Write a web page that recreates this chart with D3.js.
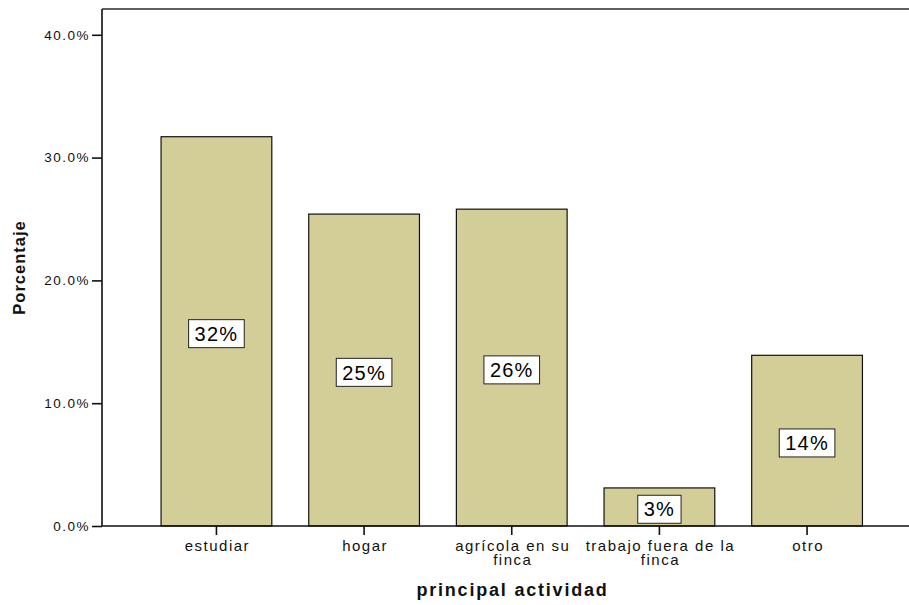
<!DOCTYPE html>
<html>
<head>
<meta charset="utf-8">
<script src="https://cdn.jsdelivr.net/npm/d3@7/dist/d3.min.js"></script>
<style>
  html, body { margin: 0; padding: 0; background: #fff; }
  svg { display: block; font-family: "Liberation Sans", Arial, sans-serif; }
</style>
</head>
<body>
<script>
// Distribución por principal actividad (porcentaje)
const categories = ["estudiar", "hogar", "agrícola en su finca", "trabajo fuera de la finca", "otro"];
const categoryLines = [["estudiar"], ["hogar"], ["agrícola en su", "finca"], ["trabajo fuera de la", "finca"], ["otro"]];
const percentages = [31.7, 25.4, 25.8, 3.1, 13.9];
const yTicks = [0, 10, 20, 30, 40];
const yTitle = "Porcentaje";
const xTitle = "principal actividad";

const W = 909, H = 605;
const plotLeft = 102, plotTop = 9, plotBottom = 526;

const svg = d3.select("body").append("svg")
  .attr("width", W).attr("height", H);

const x = d3.scaleBand()
  .domain(categories)
  .range([plotLeft, 921.5])
  .paddingInner(0.25)
  .paddingOuter(0.4);

const y = d3.scaleLinear()
  .domain([0, 42.1])
  .range([plotBottom, plotTop]);

// frame top line
svg.append("line")
  .attr("x1", plotLeft).attr("x2", W)
  .attr("y1", plotTop).attr("y2", plotTop)
  .attr("stroke", "#2a2a2a").attr("stroke-width", 1.6);

// bars
svg.append("g").selectAll("rect")
  .data(percentages)
  .join("rect")
  .attr("x", (d, i) => x(categories[i]))
  .attr("y", d => y(d))
  .attr("width", x.bandwidth())
  .attr("height", d => plotBottom - y(d))
  .attr("fill", "#d3ce98")
  .attr("stroke", "#111")
  .attr("stroke-width", 1.2);

// y axis
const yAxis = svg.append("g")
  .attr("transform", `translate(${plotLeft},0)`)
  .call(d3.axisLeft(y).tickValues(yTicks).tickSize(10).tickPadding(2)
    .tickFormat(d => d.toFixed(1) + "%"));
yAxis.select(".domain").attr("d", `M0,${plotTop}V${plotBottom}`).attr("stroke", "#111").attr("stroke-width", 1.6);
yAxis.selectAll(".tick line").attr("stroke", "#111").attr("stroke-width", 1.6);
yAxis.selectAll(".tick text")
  .attr("font-family", "'Liberation Sans', Arial, sans-serif")
  .attr("font-size", 13.5)
  .attr("letter-spacing", "1.5px")
  .attr("fill", "#111");

// x axis
const xAxis = svg.append("g")
  .attr("transform", `translate(0,${plotBottom})`)
  .call(d3.axisBottom(x).tickSize(9).tickFormat(""));
xAxis.select(".domain").attr("d", `M${plotLeft},0H${W}`).attr("stroke", "#111").attr("stroke-width", 1.6);
xAxis.selectAll(".tick line").attr("stroke", "#111").attr("stroke-width", 1.6);
xAxis.selectAll(".tick").each(function(d, i) {
  const t = d3.select(this).append("text")
    .attr("fill", "#111")
    .attr("font-family", "'Liberation Sans', Arial, sans-serif")
    .attr("font-size", 15)
    .attr("letter-spacing", "1.5px")
    .attr("text-anchor", "middle");
  categoryLines[i].forEach((line, k) => {
    t.append("tspan").attr("x", 1).attr("y", 25 + k * 13.5).text(line);
  });
});

// value labels
const lbl = svg.append("g").selectAll("g")
  .data(percentages)
  .join("g")
  .attr("transform", (d, i) => `translate(${x(categories[i]) + x.bandwidth() / 2},${y(d / 2) + 2.3})`);
lbl.append("text")
  .attr("text-anchor", "middle")
  .attr("dy", "0.36em")
  .attr("font-size", 20)
  .attr("letter-spacing", "1.2px")
  .attr("fill", "#000")
  .text(d => Math.round(d) + "%");
lbl.each(function() {
  const g = d3.select(this);
  const bb = g.select("text").node().getBBox();
  g.insert("rect", "text")
    .attr("x", -bb.width / 2 - 6)
    .attr("y", -14)
    .attr("width", bb.width + 12)
    .attr("height", 28)
    .attr("fill", "#fff")
    .attr("stroke", "#222")
    .attr("stroke-width", 1);
});

// axis titles
svg.append("text")
  .attr("transform", `translate(25,${(plotTop + plotBottom) / 2}) rotate(-90)`)
  .attr("text-anchor", "middle")
  .attr("font-weight", "bold")
  .attr("font-size", 16.5)
  .attr("letter-spacing", "1px")
  .attr("fill", "#111")
  .text(yTitle);

svg.append("text")
  .attr("x", 512.5).attr("y", 596)
  .attr("text-anchor", "middle")
  .attr("font-weight", "bold")
  .attr("font-size", 18)
  .attr("letter-spacing", "1.8px")
  .attr("fill", "#111")
  .text(xTitle);
</script>
</body>
</html>
